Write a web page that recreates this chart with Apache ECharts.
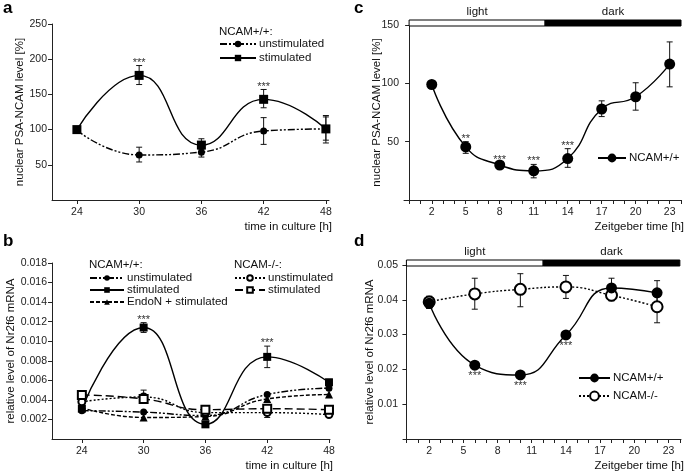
<!DOCTYPE html>
<html>
<head>
<meta charset="utf-8">
<script src="https://cdn.jsdelivr.net/npm/echarts@6/dist/echarts.min.js"></script>
<style>
html, body { margin: 0; background: #fff; }
#chart { width: 685px; height: 472px; }
</style>
</head>
<body>
<div id="chart"></div>
<script>
// panel a - PSA-NCAM in culture
var aHours = [24, 30, 36, 42, 48];
var aUnstim = [99, 64, 68, 98, 101];
var aUnstimLow = [99, 54, 61, 79, 85];
var aUnstimHigh = [99, 75, 74, 117, 118];
var aStim = [100, 177, 78, 143, 101];
var aStimLow = [100, 164, 72, 131, 81];
var aStimHigh = [100, 191, 87, 157, 120];
var aStarIdx = [1, 3];
var aStarText = ['***', '***'];

// panel b - Nr2f6 mRNA in culture
var bHours = [24, 30, 36, 42, 48];
var bWtUnstim = [0.0029, 0.00275, 0.0024, 0.00455, 0.0052];
var bWtStim = [0.0031, 0.0114, 0.0015, 0.0084, 0.0058];
var bWtStimLow = [0.0031, 0.0109, 0.0015, 0.0073, 0.0055];
var bWtStimHigh = [0.0031, 0.0119, 0.0015, 0.0095, 0.0061];
var bEndoN = [0.0032, 0.0022, 0.0023, 0.0041, 0.00455];
var bKoUnstim = [0.0038, 0.0043, 0.0027, 0.0027, 0.0025];
var bKoUnstimLow = [0.0038, 0.0040, 0.0027, 0.0022, 0.0025];
var bKoUnstimHigh = [0.0038, 0.0050, 0.0027, 0.0030, 0.0025];
var bKoStim = [0.0045, 0.0041, 0.0030, 0.0031, 0.0030];
var bKoStimLow = [0.0045, 0.0041, 0.0030, 0.0031, 0.0027];
var bKoStimHigh = [0.0045, 0.0041, 0.0030, 0.0031, 0.0034];
var bStarIdx = [1, 3];
var bStarText = ['***', '***'];

// panel c - PSA-NCAM over the day
var cHours = [2, 5, 8, 11, 14, 17, 20, 23];
var cWt = [99, 45.5, 30, 25, 35.5, 78, 88.5, 116.5];
var cWtLow = [99, 40, 28, 19, 28, 71.5, 77, 97];
var cWtHigh = [99, 50, 32, 30.5, 44, 85, 100.5, 135.5];
var cStarIdx = [1, 2, 3, 4];
var cStarText = ['**', '***', '***', '***'];

// panel d - Nr2f6 mRNA over the day
var dHours = [2, 6, 10, 14, 18, 22];
var dWt = [0.039, 0.0212, 0.0184, 0.0299, 0.0434, 0.042];
var dWtLow = [0.0375, 0.0212, 0.0184, 0.0299, 0.0397, 0.0385];
var dWtHigh = [0.041, 0.0212, 0.0184, 0.0299, 0.0462, 0.0455];
var dKo = [0.0394, 0.0417, 0.043, 0.0437, 0.0413, 0.038];
var dKoLow = [0.0375, 0.0373, 0.038, 0.0404, 0.0398, 0.0334];
var dKoHigh = [0.041, 0.0462, 0.0475, 0.047, 0.0425, 0.0425];
var dStarIdx = [1, 2, 3];
var dStarText = ['***', '***', '***'];

// tick labels
var cultureTicks = [24, 30, 36, 42, 48];
var zeitLabels = [2, 5, 8, 11, 14, 17, 20, 23];
var zeitTicks = [0, 1, 2, 3, 4, 5, 6, 7, 8, 9, 10, 11, 12, 13, 14, 15, 16, 17, 18, 19, 20, 21, 22, 23, 24];
var aYTicks = [0, 50, 100, 150, 200, 250];
var bYTicks = [0, 0.002, 0.004, 0.006, 0.008, 0.010, 0.012, 0.014, 0.016, 0.018];
var cYTicks = [0, 50, 100, 150];
var dYTicks = [0, 0.01, 0.02, 0.03, 0.04, 0.05];
var lightDark = [[0, 12], [12, 24]];
var lightDarkNames = ['light', 'dark'];

var FONT = 'Liberation Sans, Arial, sans-serif';
var legendText = {
  'a-unstim': 'unstimulated', 'a-stim': 'stimulated',
  'b-wt-unstim': 'unstimulated', 'b-wt-stim': 'stimulated', 'b-endo': 'EndoN + stimulated',
  'b-ko-unstim': 'unstimulated', 'b-ko-stim': 'stimulated',
  'c-wt': 'NCAM+/+', 'd-wt': 'NCAM+/+', 'd-ko': 'NCAM-/-'
};

function pts(xs, ys) {
  return xs.map(function (x, i) { return [x, ys[i]]; });
}

function yAx(grid, max, ticks, dec, name, gap) {
  return {
    type: 'value', gridIndex: grid, min: 0, max: max,
    name: name, nameLocation: 'middle', nameGap: gap, nameMoveOverlap: false,
    nameTextStyle: { fontSize: 11.5, color: '#111', fontFamily: FONT },
    axisLine: { show: true, lineStyle: { color: '#222', width: 1 } },
    axisTick: { show: true, length: 4, customValues: ticks.slice(1), lineStyle: { color: '#222' } },
    axisLabel: {
      customValues: ticks.slice(1), fontSize: 10.5, color: '#222', fontFamily: FONT, margin: 5,
      formatter: function (v) { return dec ? v.toFixed(dec) : String(v); }
    },
    splitLine: { show: false }
  };
}

function xAx(grid, min, max, ticks, labels, name) {
  return {
    type: 'value', gridIndex: grid, min: min, max: max,
    name: name, nameLocation: 'end', nameGap: 3, nameMoveOverlap: false,
    nameTextStyle: { fontSize: 11.5, color: '#111', fontFamily: FONT, align: 'right', verticalAlign: 'top', padding: [21, 0, 0, 0] },
    axisLine: { show: true, onZero: false, lineStyle: { color: '#222', width: 1 } },
    axisTick: { show: true, length: 4, customValues: ticks, lineStyle: { color: '#222' } },
    axisLabel: { customValues: labels, fontSize: 10.5, color: '#222', fontFamily: FONT, margin: 7 },
    splitLine: { show: false }
  };
}

function lineSeries(name, ax, xs, ys, symbol, size, dash) {
  var empty = symbol.indexOf('empty') === 0;
  return {
    name: name, type: 'line', xAxisIndex: ax, yAxisIndex: ax,
    data: pts(xs, ys), smooth: 0.5, symbol: symbol, symbolSize: size, z: 3,
    lineStyle: { color: '#000', width: 1.4, type: dash },
    itemStyle: { color: '#000', borderColor: '#000', borderWidth: empty ? 1.2 : 0 },
    emphasis: { disabled: true }
  };
}

function errSeries(ax, xs, lo, hi) {
  var data = xs.map(function (x, i) { return [x, lo[i], hi[i]]; })
    .filter(function (d) { return d[2] > d[1]; });
  return {
    type: 'custom', xAxisIndex: ax, yAxisIndex: ax, z: 2, clip: false,
    data: data, encode: { x: 0, y: [1, 2] },
    renderItem: function (params, api) {
      var x = api.value(0);
      var top = api.coord([x, api.value(2)]);
      var bot = api.coord([x, api.value(1)]);
      var w = 3, st = { stroke: '#111', lineWidth: 1 };
      return {
        type: 'group', children: [
          { type: 'line', shape: { x1: top[0], y1: top[1], x2: bot[0], y2: bot[1] }, style: st },
          { type: 'line', shape: { x1: top[0] - w, y1: top[1], x2: top[0] + w, y2: top[1] }, style: st },
          { type: 'line', shape: { x1: bot[0] - w, y1: bot[1], x2: bot[0] + w, y2: bot[1] }, style: st }
        ]
      };
    }
  };
}

function starSeries(ax, xs, ys, idx, texts, below) {
  var data = idx.map(function (i) { return [xs[i], ys[i]]; });
  return {
    type: 'custom', xAxisIndex: ax, yAxisIndex: ax, z: 4, clip: false,
    data: data, encode: { x: 0, y: 1 },
    renderItem: function (params, api) {
      var p = api.coord([api.value(0), api.value(1)]);
      return {
        type: 'text', x: p[0], y: below ? p[1] + 11 : p[1] - 3,
        style: {
          text: texts[params.dataIndex], fill: '#333', font: '11px ' + FONT,
          textAlign: 'center', textVerticalAlign: 'middle'
        }
      };
    }
  };
}

function lightDarkSeries(ax, ymax) {
  return {
    type: 'custom', xAxisIndex: ax, yAxisIndex: ax, z: 5, clip: false,
    data: lightDark, encode: { x: [0, 1] },
    renderItem: function (params, api) {
      var p0 = api.coord([api.value(0), ymax]);
      var p1 = api.coord([api.value(1), ymax]);
      var dark = params.dataIndex === 1;
      return {
        type: 'group', children: [
          { type: 'rect', shape: { x: p0[0], y: p0[1] - 5, width: p1[0] - p0[0], height: 6 },
            style: { fill: dark ? '#000' : '#fff', stroke: '#000', lineWidth: 1 } },
          { type: 'text', x: (p0[0] + p1[0]) / 2, y: p0[1] - 7,
            style: { text: lightDarkNames[params.dataIndex], fill: '#111', font: '11.5px ' + FONT,
              textAlign: 'center', textVerticalAlign: 'bottom' } }
        ]
      };
    }
  };
}

function legendBox(left, top, names, w, h, gap, lh) {
  return {
    left: left, top: top, orient: 'vertical', data: names,
    itemWidth: w, itemHeight: h, itemGap: gap, selectedMode: false, padding: 0,
    textStyle: { fontSize: 11.5, lineHeight: lh, color: '#111', fontFamily: FONT, padding: [0, 0, 0, -2] },
    formatter: function (n) { return legendText[n]; }
  };
}

var DDOT = [7, 2, 2, 2, 2, 2];
var DOT = [2, 2];
var SHORT = [4, 2];
var LONG = [8, 4];

var option = {
  animation: false,
  backgroundColor: '#fff',
  textStyle: { fontFamily: FONT },
  grid: [
    { left: 52, top: 24, width: 277, height: 176 },
    { left: 52, top: 263, width: 278, height: 177 },
    { left: 404, top: 25, width: 278, height: 175 },
    { left: 403, top: 265, width: 279, height: 175 }
  ],
  xAxis: [
    xAx(0, 21.6, 48.3, cultureTicks, cultureTicks, 'time in culture [h]'),
    xAx(1, 21.1, 48.1, cultureTicks, cultureTicks, 'time in culture [h]'),
    xAx(2, -0.45, 24, zeitTicks, zeitLabels, 'Zeitgeber time [h]'),
    xAx(3, -0.3, 24.1, zeitTicks, zeitLabels, 'Zeitgeber time [h]')
  ],
  yAxis: [
    yAx(0, 250, aYTicks, 0, 'nuclear PSA-NCAM level [%]', 26),
    yAx(1, 0.018, bYTicks, 3, 'relative level of Nr2f6 mRNA', 35),
    yAx(2, 150, cYTicks, 0, 'nuclear PSA-NCAM level [%]', 21),
    yAx(3, 0.05, dYTicks, 2, 'relative level of Nr2f6 mRNA', 27)
  ],
  legend: [
    legendBox(219, 38, ['a-unstim', 'a-stim'], 36, 8, 2, 10),
    legendBox(89, 272, ['b-wt-unstim', 'b-wt-stim', 'b-endo'], 34, 7, 0, 10),
    legendBox(234, 272, ['b-ko-unstim', 'b-ko-stim'], 30, 7, 0, 10),
    legendBox(597, 151, ['c-wt'], 28, 11, 4, 14),
    legendBox(578, 371, ['d-wt', 'd-ko'], 31, 11, 4, 14)
  ],
  graphic: [
    { type: 'text', left: 3, top: 0, style: { text: 'a', font: 'bold 17px ' + FONT, fill: '#000' } },
    { type: 'text', left: 3, top: 233, style: { text: 'b', font: 'bold 17px ' + FONT, fill: '#000' } },
    { type: 'text', left: 354, top: 0, style: { text: 'c', font: 'bold 17px ' + FONT, fill: '#000' } },
    { type: 'text', left: 354, top: 233, style: { text: 'd', font: 'bold 17px ' + FONT, fill: '#000' } },
    { type: 'text', left: 219, top: 26, style: { text: 'NCAM+/+:', font: '11.5px ' + FONT, fill: '#111' } },
    { type: 'text', left: 89, top: 259, style: { text: 'NCAM+/+:', font: '11.5px ' + FONT, fill: '#111' } },
    { type: 'text', left: 234, top: 259, style: { text: 'NCAM-/-:', font: '11.5px ' + FONT, fill: '#111' } }
  ],
  series: [
    errSeries(0, aHours, aUnstimLow, aUnstimHigh),
    errSeries(0, aHours, aStimLow, aStimHigh),
    lineSeries('a-unstim', 0, aHours, aUnstim, 'circle', 7, DDOT),
    lineSeries('a-stim', 0, aHours, aStim, 'rect', 9, 'solid'),
    starSeries(0, aHours, aStimHigh, aStarIdx, aStarText, false),

    errSeries(1, bHours, bWtStimLow, bWtStimHigh),
    errSeries(1, bHours, bKoUnstimLow, bKoUnstimHigh),
    errSeries(1, bHours, bKoStimLow, bKoStimHigh),
    lineSeries('b-wt-unstim', 1, bHours, bWtUnstim, 'circle', 7, DDOT),
    lineSeries('b-wt-stim', 1, bHours, bWtStim, 'rect', 8, 'solid'),
    lineSeries('b-endo', 1, bHours, bEndoN, 'triangle', 8, SHORT),
    lineSeries('b-ko-unstim', 1, bHours, bKoUnstim, 'emptyCircle', 7, DOT),
    lineSeries('b-ko-stim', 1, bHours, bKoStim, 'emptyRect', 8, LONG),
    starSeries(1, bHours, bWtStimHigh, bStarIdx, bStarText, false),

    errSeries(2, cHours, cWtLow, cWtHigh),
    lineSeries('c-wt', 2, cHours, cWt, 'circle', 11, 'solid'),
    starSeries(2, cHours, cWtHigh, cStarIdx, cStarText, false),
    lightDarkSeries(2, 150),

    errSeries(3, dHours, dWtLow, dWtHigh),
    errSeries(3, dHours, dKoLow, dKoHigh),
    lineSeries('d-ko', 3, dHours, dKo, 'emptyCircle', 11, DOT),
    lineSeries('d-wt', 3, dHours, dWt, 'circle', 11, 'solid'),
    starSeries(3, dHours, dWt, dStarIdx, dStarText, true),
    lightDarkSeries(3, 0.05)
  ]
};

var myChart = echarts.init(document.getElementById('chart'));
myChart.setOption(option);
</script>
</body>
</html>
